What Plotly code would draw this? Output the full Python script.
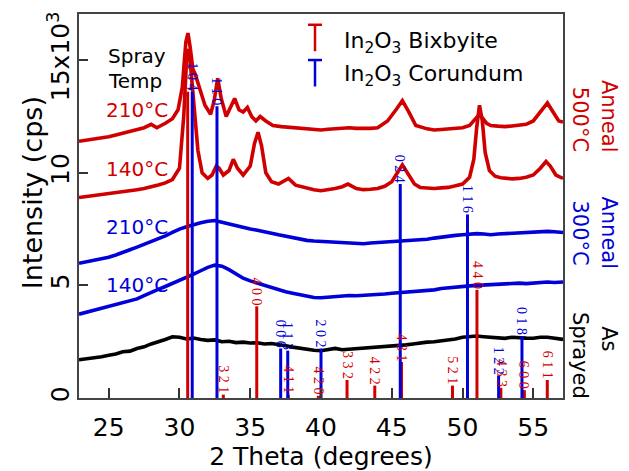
import plotly.graph_objects as go

# ---- XRD scans (2-theta in degrees, intensity in 10^3 cps) ----
tt_sprayed = [22.9, 23.5, 24.0, 24.5, 25.0, 25.5, 26.0, 26.5, 27.0, 27.5, 28.0, 28.5, 29.0, 29.5,
              30.0, 30.5, 31.0, 31.5, 32.0, 32.5, 33.0, 33.5, 34.0, 34.5, 35.0, 35.5, 36.0, 36.5,
              37.0, 37.5, 38.0, 38.5, 39.0, 39.5, 40.0, 40.5, 41.0, 41.5, 42.0, 42.5, 43.0, 43.5,
              44.0, 44.5, 45.0, 45.5, 46.0, 46.5, 47.0, 47.5, 48.0, 48.5, 49.0, 49.5, 50.0, 50.5,
              51.0, 51.5, 52.0, 52.5, 53.0, 53.5, 54.0, 54.5, 55.0, 55.5, 56.0, 56.5, 57.1]
i_sprayed = [1.70, 1.74, 1.80, 1.83, 1.90, 1.95, 2.05, 2.08, 2.20, 2.27, 2.40, 2.48, 2.60, 2.72,
             2.70, 2.62, 2.66, 2.60, 2.56, 2.58, 2.50, 2.52, 2.46, 2.48, 2.44, 2.45, 2.40, 2.42,
             2.35, 2.32, 2.26, 2.20, 2.15, 2.12, 2.10, 2.16, 2.20, 2.14, 2.16, 2.20, 2.20, 2.24,
             2.25, 2.28, 2.30, 2.33, 2.36, 2.40, 2.45, 2.48, 2.50, 2.53, 2.56, 2.62, 2.70, 2.74,
             2.75, 2.72, 2.70, 2.66, 2.65, 2.70, 2.70, 2.66, 2.65, 2.70, 2.70, 2.64, 2.60]

tt_300 = tt_sprayed
i_300_140 = [3.72, 3.82, 3.90, 3.97, 4.05, 4.12, 4.20, 4.30, 4.40, 4.55, 4.70, 4.82, 4.95, 5.08,
             5.20, 5.35, 5.50, 5.65, 5.80, 5.90, 5.85, 5.70, 5.50, 5.32, 5.20, 5.10, 5.00, 4.90,
             4.80, 4.72, 4.65, 4.58, 4.50, 4.46, 4.45, 4.48, 4.50, 4.52, 4.55, 4.54, 4.55, 4.58,
             4.60, 4.62, 4.65, 4.67, 4.70, 4.72, 4.75, 4.77, 4.80, 4.86, 4.90, 4.92, 4.95, 4.98,
             5.00, 5.02, 5.00, 5.04, 5.05, 5.08, 5.10, 5.08, 5.10, 5.14, 5.15, 5.13, 5.15]
i_300_210 = [5.98, 6.05, 6.10, 6.18, 6.25, 6.35, 6.45, 6.58, 6.70, 6.82, 6.95, 7.08, 7.20, 7.35,
             7.50, 7.60, 7.70, 7.78, 7.85, 7.88, 7.80, 7.72, 7.65, 7.58, 7.50, 7.45, 7.40, 7.32,
             7.25, 7.18, 7.10, 7.05, 7.00, 6.97, 6.95, 6.92, 6.90, 6.92, 6.90, 6.87, 6.85, 6.88,
             6.90, 6.92, 6.95, 6.98, 7.00, 7.02, 7.00, 7.05, 7.10, 7.15, 7.20, 7.22, 7.25, 7.28,
             7.30, 7.28, 7.25, 7.28, 7.30, 7.33, 7.35, 7.33, 7.35, 7.38, 7.40, 7.38, 7.35]

tt_500_140 = [22.9, 23.5, 24.0, 24.5, 25.0, 25.5, 26.0, 26.5, 27.0, 27.5, 28.0, 28.5, 29.0, 29.5,
              30.0, 30.3, 30.5, 30.6, 30.75, 31.0, 31.3, 31.6, 32.0, 32.3, 32.6, 32.8, 33.1, 33.5,
              33.8, 34.1, 34.5, 35.0, 35.3, 35.55, 35.8, 36.1, 36.5, 37.0, 37.7, 38.2, 38.6, 39.0,
              39.5, 40.0, 40.5, 41.0, 41.5, 41.9, 42.5, 43.0, 43.5, 44.0, 44.5, 45.0, 45.4, 45.75,
              46.1, 46.6, 47.0, 47.5, 48.0, 48.5, 49.0, 49.5, 50.0, 50.5, 50.8, 51.0, 51.2, 51.4,
              51.6, 51.9, 52.3, 52.7, 53.0, 53.5, 54.0, 54.5, 55.0, 55.5, 55.9, 56.2, 56.6, 57.1]
i_500_140 = [8.90, 8.95, 9.00, 9.02, 9.05, 9.10, 9.15, 9.18, 9.25, 9.30, 9.40, 9.46, 9.55, 9.70,
             10.2, 12.5, 15.0, 15.5, 15.0, 13.0, 11.0, 10.0, 9.75, 9.90, 10.3, 10.2, 9.90, 10.1,
             10.6, 10.2, 9.90, 10.3, 11.3, 11.8, 11.2, 10.0, 9.60, 9.50, 9.75, 9.45, 9.38, 9.30,
             9.25, 9.20, 9.24, 9.30, 9.38, 9.50, 9.30, 9.25, 9.27, 9.30, 9.40, 9.60, 10.0, 10.35,
             10.0, 9.50, 9.35, 9.32, 9.30, 9.33, 9.35, 9.42, 9.50, 9.80, 10.6, 12.0, 13.0, 12.3,
             10.9, 10.1, 9.85, 9.78, 9.75, 9.73, 9.75, 9.80, 9.90, 10.2, 10.5, 10.3, 9.90, 9.75]

tt_500_210 = [22.9, 23.5, 24.0, 24.5, 25.0, 25.5, 26.0, 26.5, 27.0, 27.5, 28.0, 28.4, 29.0, 29.5,
              29.9, 30.2, 30.45, 30.6, 30.75, 30.95, 31.1, 31.4, 31.8, 32.2, 32.45, 32.7, 32.95,
              33.3, 33.6, 33.9, 34.2, 34.5, 34.8, 35.1, 35.4, 35.7, 36.1, 36.6, 37.2, 38.0, 38.5,
              39.0, 39.5, 40.0, 40.5, 41.0, 41.5, 42.0, 42.5, 43.0, 43.5, 44.0, 44.7, 45.3, 45.75,
              46.2, 46.7, 47.5, 48.0, 48.5, 49.0, 49.5, 50.0, 50.5, 51.2, 51.7, 52.0, 52.5, 53.0,
              53.5, 54.0, 54.5, 55.0, 55.6, 56.0, 56.4, 56.8, 57.1]
i_500_210 = [11.4, 11.45, 11.5, 11.55, 11.6, 11.68, 11.75, 11.82, 11.9, 12.0, 12.15, 12.0, 12.2, 12.4,
             12.8, 13.8, 15.8, 16.2, 15.6, 14.6, 14.4, 13.8, 13.0, 12.6, 13.2, 14.2, 13.3,
             12.5, 12.9, 13.3, 12.8, 12.7, 12.9, 12.5, 12.3, 12.5, 12.3, 12.1, 12.05, 12.0, 11.97,
             11.95, 11.92, 11.9, 11.93, 11.95, 11.98, 12.0, 11.97, 11.95, 11.97, 12.0, 12.3, 12.8, 13.2,
             12.7, 12.1, 11.95, 11.9, 11.92, 11.95, 11.98, 12.0, 12.1, 12.6, 12.2, 12.1, 12.07, 12.05,
             12.08, 12.1, 12.15, 12.3, 12.8, 13.1, 12.7, 12.3, 12.25]

# ---- Reference patterns: positions (2-theta), stick heights (10^3 cps), hkl labels ----
bix_pos = [30.58, 33.10, 35.46, 37.69, 39.81, 41.84, 43.80, 45.69, 49.29, 51.02, 52.71, 54.37, 55.99]
bix_int = [13.6, 0.15, 4.07, 0.15, 0.10, 0.80, 0.55, 1.60, 0.55, 4.80, 0.45, 0.35, 0.80]
bix_hkl = ["222", "321", "400", "411", "420", "332", "422", "431", "521", "440", "433", "600", "611"]

cor_pos = [30.90, 32.65, 37.15, 37.65, 40.00, 45.60, 50.35, 52.55, 54.20]
cor_int = [13.6, 12.95, 2.20, 2.10, 2.20, 9.50, 8.15, 1.00, 2.75]
cor_hkl = ["104", "110", "006", "113", "202", "024", "116", "122", "018"]

y_ticks = [0, 5, 10, 15]
y_ticktext = ["0", "5", "10", "15x10<sup>3</sup>"]
x_ticks = [25, 30, 35, 40, 45, 50, 55]

RED = "#d10000"
BLUE = "#0000d8"
PLOT_W, PLOT_H = 629, 471
ML, MR, MT, MB = 79, 66, 14, 65


def px(x):
    return (x - ML) / (PLOT_W - ML - MR)


def py(y):
    return (PLOT_H - MB - y) / (PLOT_H - MT - MB)


fig = go.Figure()

scans = [
    (tt_sprayed, i_sprayed, "black"),
    (tt_300, i_300_140, BLUE),
    (tt_300, i_300_210, BLUE),
    (tt_500_140, i_500_140, RED),
    (tt_500_210, i_500_210, RED),
]
for xs, ys, col in scans:
    fig.add_trace(go.Scatter(x=xs, y=ys, mode="lines",
                             line=dict(color=col, width=3.6), hoverinfo="skip"))


def sticks(pos, hts):
    xs, ys = [], []
    for p, h in zip(pos, hts):
        xs += [p, p, None]
        ys += [0, h, None]
    return xs, ys


for pos, hts, col in [(bix_pos, bix_int, RED), (cor_pos, cor_int, BLUE)]:
    sx, sy = sticks(pos, hts)
    fig.add_trace(go.Scatter(x=sx, y=sy, mode="lines",
                             line=dict(color=col, width=3), hoverinfo="skip"))

annotations = []
for pos, hts, labels, col in [(bix_pos, bix_int, bix_hkl, RED), (cor_pos, cor_int, cor_hkl, BLUE)]:
    for p, h, lab in zip(pos, hts, labels):
        annotations.append(dict(x=p, y=h, xref="x", yref="y", text=" ".join(lab),
                                textangle=90, xanchor="center", yanchor="bottom",
                                showarrow=False, borderpad=0,
                                font=dict(family="Liberation Serif", size=14, color=col)))


def note(x, y, text, size, color, angle=0, xanchor="center", align="center"):
    return dict(x=px(x), y=py(y), xref="paper", yref="paper", text=text,
                textangle=angle, xanchor=xanchor, yanchor="middle", align=align,
                showarrow=False, font=dict(size=size, color=color))


annotations += [
    note(32, 197, "Intensity (cps)", 27, "black", angle=-90),
    note(106, 57, "Spray", 20, "black", xanchor="left"),
    note(106, 82, "Temp", 20, "black", xanchor="left"),
    note(104, 112, "210°C", 20, RED, xanchor="left"),
    note(104, 172, "140°C", 20, RED, xanchor="left"),
    note(104, 231, "210°C", 20, BLUE, xanchor="left"),
    note(104, 291, "140°C", 20, BLUE, xanchor="left"),
    note(609, 118, "Anneal", 21, RED, angle=90),
    note(580, 121, "500°C", 21, RED, angle=90),
    note(609, 237, "Anneal", 21, BLUE, angle=90),
    note(580, 237, "300°C", 21, BLUE, angle=90),
    note(609, 345, "As", 21, "black", angle=90),
    note(580, 362, "Sprayed", 21, "black", angle=90),
    note(342, 43, "In<sub>2</sub>O<sub>3</sub> Bixbyite", 22, "black", xanchor="left"),
    note(342, 77, "In<sub>2</sub>O<sub>3</sub> Corundum", 22, "black", xanchor="left"),
]

# legend glyphs: stick with a cap
shapes = []
for top, bot, col in [(25, 52, RED), (61, 88, BLUE)]:
    shapes.append(dict(type="line", xref="paper", yref="paper", x0=px(315), x1=px(315),
                       y0=py(top), y1=py(bot), line=dict(color=col, width=2.5)))
    shapes.append(dict(type="line", xref="paper", yref="paper", x0=px(308), x1=px(322),
                       y0=py(top), y1=py(top), line=dict(color=col, width=2.5)))

fig.update_layout(
    width=PLOT_W, height=PLOT_H,
    margin=dict(l=ML, r=MR, t=MT, b=MB),
    paper_bgcolor="white", plot_bgcolor="white",
    showlegend=False,
    font=dict(family="DejaVu Sans", color="black"),
    annotations=annotations,
    shapes=shapes,
    xaxis=dict(range=[22.9, 57.1], tickvals=x_ticks, ticks="inside", ticklen=10,
               tickwidth=1.5, tickcolor="#333", showline=True, linecolor="#444",
               linewidth=1.5, mirror=True, showgrid=False, zeroline=False,
               tickfont=dict(size=25), ticklabelstandoff=6,
               title=dict(text="2 Theta (degrees)", font=dict(size=25), standoff=0)),
    yaxis=dict(range=[0, 17.05], tickvals=y_ticks, ticktext=y_ticktext, tickangle=-90,
               ticks="inside", ticklen=9, tickwidth=1.5, tickcolor="#333",
               showline=True, linecolor="#444", linewidth=1.5, mirror=True,
               showgrid=False, zeroline=False, tickfont=dict(size=25),
               ticklabelstandoff=-2),
)

fig.write_html("out.html")
